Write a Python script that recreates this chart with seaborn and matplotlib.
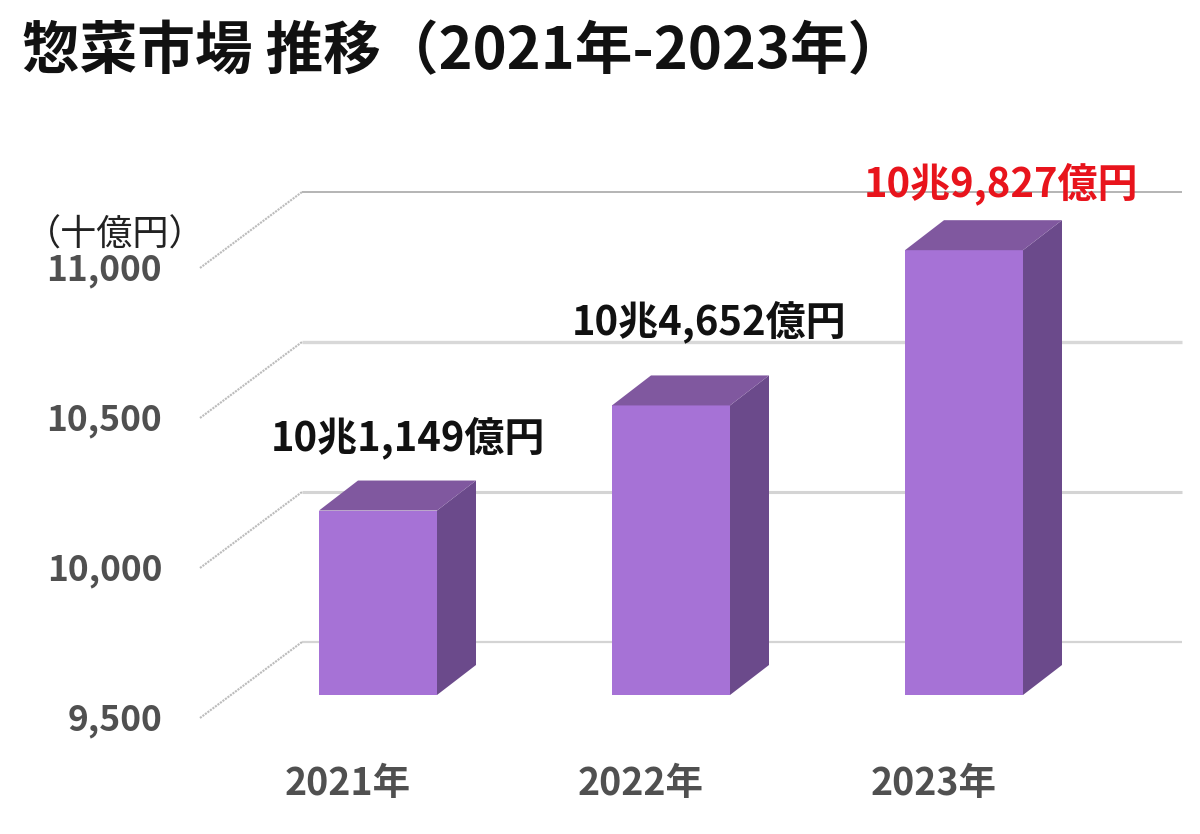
import pandas as pd
import seaborn as sns
from matplotlib import pyplot as plt
from matplotlib.patches import Polygon

years = ["2021年", "2022年", "2023年"]
market = [10114.9, 10465.2, 10982.7]
value_labels = ["10兆1,149億円", "10兆4,652億円", "10兆9,827億円"]
label_colors = ["#111111", "#111111", "#e8141c"]
y_ticks = [9500, 10000, 10500, 11000]
y_tick_labels = ["9,500", "10,000", "10,500", "11,000"]

grid_colors = ["#d4d4d4", "#d4d4d4", "#d8d8d8", "#b4b4b4"]
grid_widths = [1.6, 2.2, 2.4, 1.4]
# the value labels were placed by hand, px from the bar centre / top
label_dx = [30, 38, 37]
label_dy = [73, 84, 66]

W, H = 1200, 834
PX_X = 293.0   # px per category
PX_Y = 0.3     # px per unit
BASE = 9500
BAR_DX, BAR_DY = 39 / PX_X, 30 / PX_Y       # depth of the bars
FRONT = -23 / PX_Y                          # floor front edge vs. bar bottom
BACK = 53 / PX_Y                            # back wall vs. bar bottom

sns.set_theme(style="white")
plt.rcParams["font.family"] = ["Noto Sans CJK JP", "DejaVu Sans"]

fig = plt.figure(figsize=(W / 100, H / 100), dpi=100)
ax = fig.add_axes([0, 0, 1, 1])

df = pd.DataFrame({"year": years, "market": [m - BASE for m in market]})
sns.barplot(data=df, x="year", y="market", bottom=BASE, width=118 / PX_X, color="#a672d6",
            saturation=1, linewidth=0, errorbar=None, zorder=3, ax=ax)

# pixel-aligned limits: first category centre at 378 px, bar bottom at 695 px
ax.set_xlim(-378 / PX_X, (W - 378) / PX_X)
ax.set_ylim(BASE - (H - 695) / PX_Y, BASE + 695 / PX_Y)
ax.axis("off")

# side and top faces of the bars
for p in ax.patches[:len(market)]:
    x0, x1 = p.get_x(), p.get_x() + p.get_width()
    y0, y1 = p.get_y(), p.get_y() + p.get_height()
    ax.add_patch(Polygon([(x1, y0), (x1 + BAR_DX, y0 + BAR_DY), (x1 + BAR_DX, y1 + BAR_DY), (x1, y1)],
                         closed=True, fc="#6b4a8b", ec="none", zorder=3))
    ax.add_patch(Polygon([(x0, y1), (x0 + BAR_DX, y1 + BAR_DY), (x1 + BAR_DX, y1 + BAR_DY), (x1, y1)],
                         closed=True, fc="#80589f", ec="none", zorder=3))

# wall grid and dotted floor edges
wall_x0 = (302 - 378) / PX_X
wall_x1 = (1182 - 378) / PX_X
front_x = (200 - 378) / PX_X
for t, c, lw in zip(y_ticks, grid_colors, grid_widths):
    ax.plot([wall_x0, wall_x1], [t + BACK, t + BACK], color=c, lw=lw, zorder=1, solid_capstyle="butt")
    ax.plot([front_x, wall_x0], [t + FRONT, t + BACK], color="#bcbcbc", lw=1.5, ls=(0, (1, 0.5)), zorder=1)

for t, s in zip(y_ticks, y_tick_labels):
    ax.text((162 - 378) / PX_X, t + FRONT - 3 / PX_Y, s, ha="right", va="center", fontsize=25.5,
            fontweight="bold", color="#505050")

for i, (v, s, c, dx, dy) in enumerate(zip(market, value_labels, label_colors, label_dx, label_dy)):
    ax.text(i + dx / PX_X, v + dy / PX_Y, s, ha="center", va="center", fontsize=28.8,
            fontweight="bold", color=c, zorder=5)

for i, s in enumerate(years):
    ax.text(i - 30 / PX_X, BASE - 88 / PX_Y, s, ha="center", va="center", fontsize=27,
            fontweight="bold", color="#505050")

ax.text((25 - 378) / PX_X, BASE + (695 - 236) / PX_Y, "（十億円）", ha="left", va="center",
        fontsize=26, color="#222222")

fig.text(22 / W, 1 - 52 / H, "惣菜市場 推移（2021年-2023年）", ha="left", va="center",
         fontsize=41.5, fontweight="bold", color="#111111")

fig.savefig("out.png", dpi=100, facecolor="white")
